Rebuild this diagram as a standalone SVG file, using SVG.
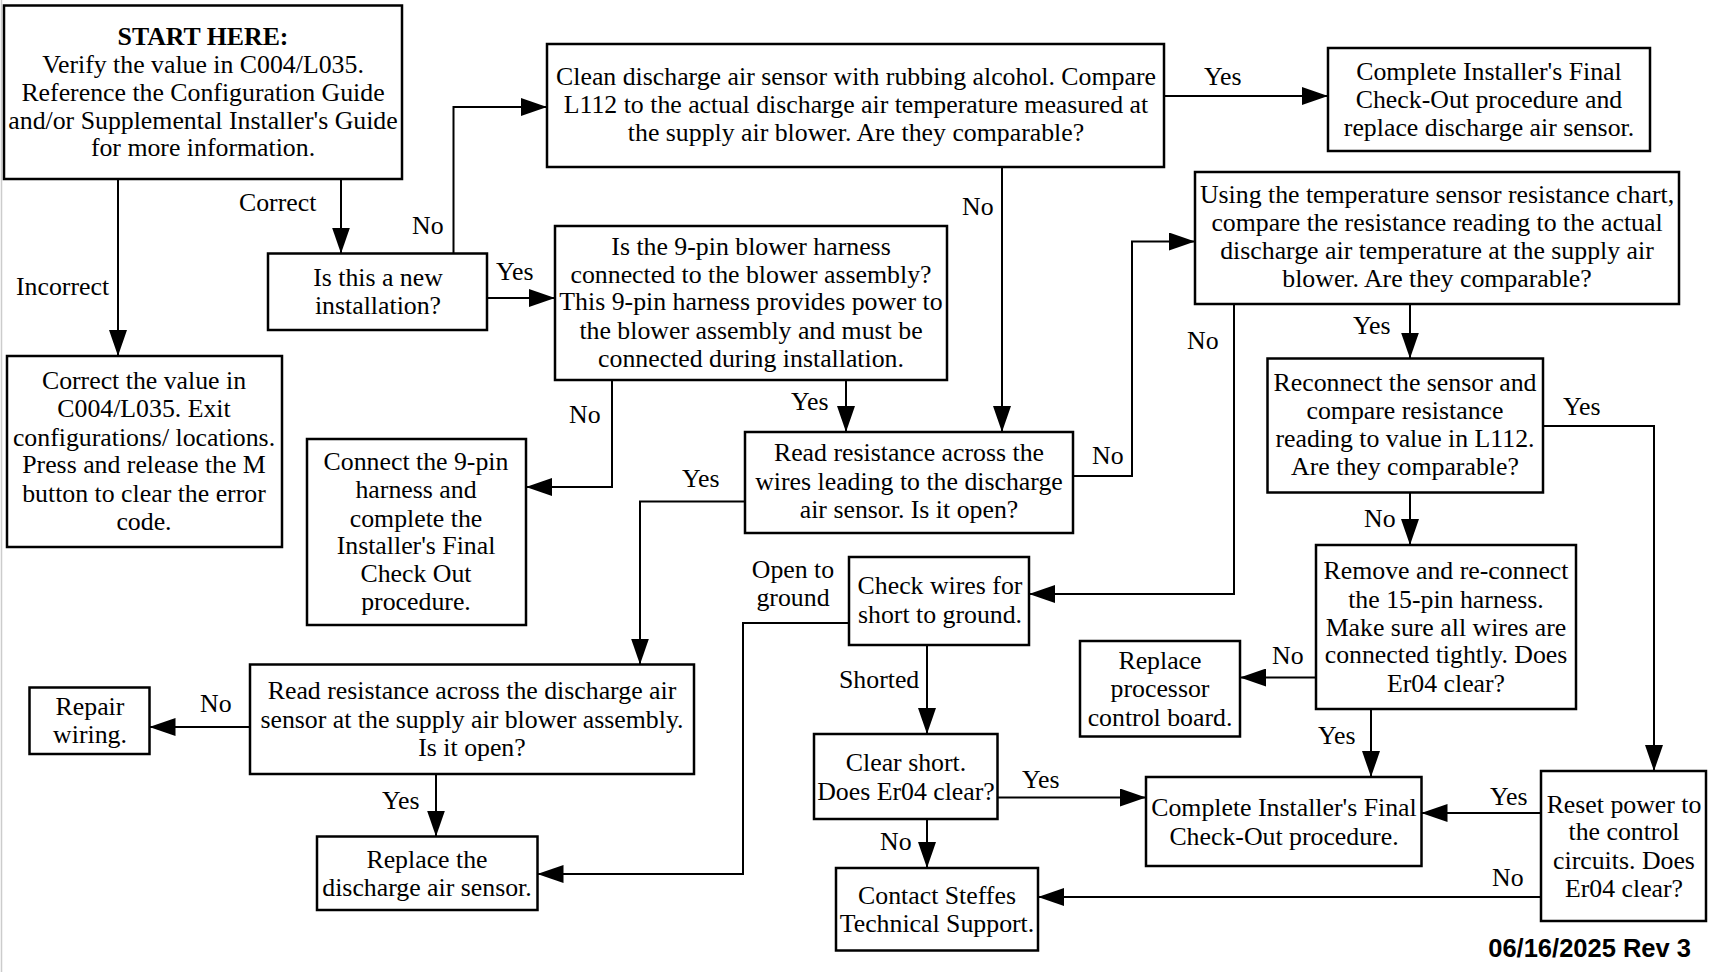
<svg xmlns="http://www.w3.org/2000/svg" width="1710" height="972" viewBox="0 0 1710 972">
<style>
.box{fill:#fff;stroke:#000;stroke-width:2.5}
.t{font-family:"Liberation Serif","Times New Roman",serif;font-size:25.8px;text-anchor:middle;fill:#000}
.l{font-family:"Liberation Serif","Times New Roman",serif;font-size:25.8px;fill:#000}
.c{fill:none;stroke:#000;stroke-width:2;marker-end:url(#ah)}
</style>
<defs>
<marker id="ah" markerUnits="userSpaceOnUse" markerWidth="26" markerHeight="18" refX="26" refY="9" orient="auto" viewBox="0 0 26 18"><path d="M0,0 L26,9 L0,18 z" fill="#000"/></marker>
</defs>
<rect width="1710" height="972" fill="#fff"/>
<line x1="1.5" y1="0" x2="1.5" y2="972" stroke="#ccc" stroke-width="1.5"/>
<g id="n1"><rect class="box" x="4" y="5.5" width="398" height="173.5"/>
<text class="t"><tspan x="203" y="45" font-weight="bold">START HERE:</tspan><tspan x="203" y="73">Verify the value in C004/L035.</tspan><tspan x="203" y="101">Reference the Configuration Guide</tspan><tspan x="203" y="129">and/or Supplemental Installer's Guide</tspan><tspan x="203" y="156">for more information.</tspan></text></g>
<g id="n2"><rect class="box" x="547" y="44" width="617" height="123"/>
<text class="t"><tspan x="856" y="85">Clean discharge air sensor with rubbing alcohol. Compare</tspan><tspan x="856" y="113">L112 to the actual discharge air temperature measured at</tspan><tspan x="856" y="141">the supply air blower. Are they comparable?</tspan></text></g>
<g id="n3"><rect class="box" x="1328" y="48" width="322" height="103"/>
<text class="t"><tspan x="1489" y="80">Complete Installer's Final</tspan><tspan x="1489" y="108">Check-Out procedure and</tspan><tspan x="1489" y="136">replace discharge air sensor.</tspan></text></g>
<g id="n4"><rect class="box" x="1195" y="172" width="484" height="132"/>
<text class="t"><tspan x="1437" y="203">Using the temperature sensor resistance chart,</tspan><tspan x="1437" y="231">compare the resistance reading to the actual</tspan><tspan x="1437" y="259">discharge air temperature at the supply air</tspan><tspan x="1437" y="287">blower. Are they comparable?</tspan></text></g>
<g id="n5"><rect class="box" x="268" y="253.5" width="219" height="76.5"/>
<text class="t"><tspan x="378" y="286">Is this a new</tspan><tspan x="378" y="314">installation?</tspan></text></g>
<g id="n6"><rect class="box" x="555" y="226" width="392" height="154"/>
<text class="t"><tspan x="751" y="255">Is the 9-pin blower harness</tspan><tspan x="751" y="283">connected to the blower assembly?</tspan><tspan x="751" y="310">This 9-pin harness provides power to</tspan><tspan x="751" y="339">the blower assembly and must be</tspan><tspan x="751" y="367">connected during installation.</tspan></text></g>
<g id="n7"><rect class="box" x="7" y="356" width="275" height="191"/>
<text class="t"><tspan x="144" y="389">Correct the value in</tspan><tspan x="144" y="417">C004/L035. Exit</tspan><tspan x="144" y="446">configurations/ locations.</tspan><tspan x="144" y="473">Press and release the M</tspan><tspan x="144" y="502">button to clear the error</tspan><tspan x="144" y="530">code.</tspan></text></g>
<g id="n8"><rect class="box" x="307" y="439" width="219" height="186"/>
<text class="t"><tspan x="416" y="470">Connect the 9-pin</tspan><tspan x="416" y="498">harness and</tspan><tspan x="416" y="527">complete the</tspan><tspan x="416" y="554">Installer's Final</tspan><tspan x="416" y="582">Check Out</tspan><tspan x="416" y="610">procedure.</tspan></text></g>
<g id="n9"><rect class="box" x="745" y="432" width="328" height="101"/>
<text class="t"><tspan x="909" y="461">Read resistance across the</tspan><tspan x="909" y="490">wires leading to the discharge</tspan><tspan x="909" y="518">air sensor. Is it open?</tspan></text></g>
<g id="n10"><rect class="box" x="1267.5" y="358.5" width="275.5" height="134"/>
<text class="t"><tspan x="1405" y="391">Reconnect the sensor and</tspan><tspan x="1405" y="419">compare resistance</tspan><tspan x="1405" y="447">reading to value in L112.</tspan><tspan x="1405" y="475">Are they comparable?</tspan></text></g>
<g id="n11"><rect class="box" x="849" y="557" width="180" height="88"/>
<text class="t"><tspan x="940" y="594">Check wires for</tspan><tspan x="940" y="623">short to ground.</tspan></text></g>
<g id="n12"><rect class="box" x="1316" y="545" width="260" height="164"/>
<text class="t"><tspan x="1446" y="579">Remove and re-connect</tspan><tspan x="1446" y="608">the 15-pin harness.</tspan><tspan x="1446" y="636">Make sure all wires are</tspan><tspan x="1446" y="663">connected tightly. Does</tspan><tspan x="1446" y="692">Er04 clear?</tspan></text></g>
<g id="n13"><rect class="box" x="1080" y="641" width="160" height="95.5"/>
<text class="t"><tspan x="1160" y="669">Replace</tspan><tspan x="1160" y="697">processor</tspan><tspan x="1160" y="726">control board.</tspan></text></g>
<g id="n14"><rect class="box" x="29.5" y="687.5" width="120" height="66.5"/>
<text class="t"><tspan x="90" y="715">Repair</tspan><tspan x="90" y="743">wiring.</tspan></text></g>
<g id="n15"><rect class="box" x="250" y="664.5" width="444" height="109.5"/>
<text class="t"><tspan x="472" y="699">Read resistance across the discharge air</tspan><tspan x="472" y="728">sensor at the supply air blower assembly.</tspan><tspan x="472" y="756">Is it open?</tspan></text></g>
<g id="n16"><rect class="box" x="317" y="836.5" width="220.5" height="73.5"/>
<text class="t"><tspan x="427" y="868">Replace the</tspan><tspan x="427" y="896">discharge air sensor.</tspan></text></g>
<g id="n17"><rect class="box" x="814" y="734" width="183.5" height="85"/>
<text class="t"><tspan x="906" y="771">Clear short.</tspan><tspan x="906" y="800">Does Er04 clear?</tspan></text></g>
<g id="n18"><rect class="box" x="1146" y="777" width="275.5" height="89"/>
<text class="t"><tspan x="1284" y="816">Complete Installer's Final</tspan><tspan x="1284" y="845">Check-Out procedure.</tspan></text></g>
<g id="n19"><rect class="box" x="1541" y="771" width="165" height="150"/>
<text class="t"><tspan x="1624" y="813">Reset power to</tspan><tspan x="1624" y="840">the control</tspan><tspan x="1624" y="869">circuits. Does</tspan><tspan x="1624" y="897">Er04 clear?</tspan></text></g>
<g id="n20"><rect class="box" x="836" y="868" width="202" height="82.5"/>
<text class="t"><tspan x="937" y="904">Contact Steffes</tspan><tspan x="937" y="932">Technical Support.</tspan></text></g>
<g id="connectors">
<path class="c" d="M118,179 V356"/>
<path class="c" d="M341,179 V253.5"/>
<path class="c" d="M453.5,253.5 V107 H547"/>
<path class="c" d="M487,298 H555"/>
<path class="c" d="M1164,96 H1328"/>
<path class="c" d="M1002,167 V432"/>
<path class="c" d="M846,380 V432"/>
<path class="c" d="M612,380 V487 H526"/>
<path class="c" d="M1073,476 H1132 V241.5 H1195"/>
<path class="c" d="M745,501.5 H640 V664.5"/>
<path class="c" d="M1410,304 V358.5"/>
<path class="c" d="M1234,304 V594 H1029"/>
<path class="c" d="M1543,426 H1654 V771"/>
<path class="c" d="M1410,492.5 V545"/>
<path class="c" d="M1316,677.5 H1240"/>
<path class="c" d="M1371,709 V777"/>
<path class="c" d="M927,645 V734"/>
<path class="c" d="M849,623 H743 V874 H537.5"/>
<path class="c" d="M250,727 H149.5"/>
<path class="c" d="M436,774 V836.5"/>
<path class="c" d="M997.5,797.5 H1146"/>
<path class="c" d="M927,819 V868"/>
<path class="c" d="M1541,813 H1421.5"/>
<path class="c" d="M1541,897 H1038"/>
<text class="l" x="16" y="295">Incorrect</text>
<text class="l" x="239" y="211">Correct</text>
<text class="l" x="412" y="234">No</text>
<text class="l" x="496" y="280">Yes</text>
<text class="l" x="1204" y="85">Yes</text>
<text class="l" x="962" y="215">No</text>
<text class="l" x="791" y="410">Yes</text>
<text class="l" x="569" y="423">No</text>
<text class="l" x="1092" y="464">No</text>
<text class="l" x="682" y="487">Yes</text>
<text class="l" x="1353" y="334">Yes</text>
<text class="l" x="1187" y="349">No</text>
<text class="l" x="1563" y="415">Yes</text>
<text class="l" x="1364" y="527">No</text>
<text class="l" x="1272" y="664">No</text>
<text class="l" x="1318" y="744">Yes</text>
<text class="l" x="839" y="688">Shorted</text>
<text class="t" x="793" y="578">Open to</text>
<text class="t" x="793" y="606">ground</text>
<text class="l" x="200" y="712">No</text>
<text class="l" x="382" y="809">Yes</text>
<text class="l" x="1022" y="788">Yes</text>
<text class="l" x="880" y="850">No</text>
<text class="l" x="1490" y="805">Yes</text>
<text class="l" x="1492" y="886">No</text>
</g>
<text x="1691" y="957" text-anchor="end" font-family="'Liberation Sans',Arial,sans-serif" font-weight="bold" font-size="25.5" fill="#000">06/16/2025 Rev 3</text>
</svg>
